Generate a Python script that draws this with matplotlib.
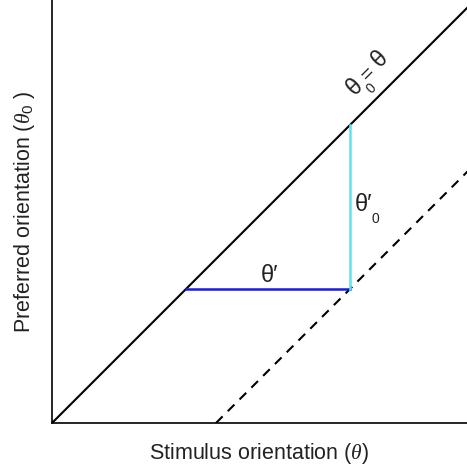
import matplotlib
matplotlib.use("Agg")
import matplotlib.pyplot as plt

plt.rcParams['font.family'] = ['Liberation Sans', 'DejaVu Sans']
plt.rcParams['mathtext.fontset'] = 'custom'
plt.rcParams['mathtext.rm'] = 'Liberation Sans'
plt.rcParams['mathtext.it'] = 'Liberation Serif:italic'

# data (arbitrary orientation units)
x_max = 415
y_max = 423
identity_x = [0, 430]
identity_y = [0, 430]
offset = 164
dashed_x = [offset, 430]
dashed_y = [0, 430 - offset]
theta_prime_x = [134, 298]
theta_prime_y = [134, 134]
theta0_prime_x = [298, 298]
theta0_prime_y = [134, 298]

TXT = '#222222'
fig = plt.figure(figsize=(4.67, 4.70), dpi=100)
ax = fig.add_axes([52/467, 47/470, 415/467, 423/470])
ax.plot(identity_x, identity_y, color='black', lw=1.5, solid_capstyle='butt')
ax.plot(dashed_x, dashed_y, color='black', lw=1.5, ls=(0, (4.5, 3.5)))
ax.plot(theta_prime_x, theta_prime_y, color='#1a1ae0', lw=1.8)
ax.plot(theta0_prime_x, theta0_prime_y, color='#5ee3ef', lw=1.8)
ax.set_xlim(0, x_max)
ax.set_ylim(0, y_max)
ax.set_xticks([])
ax.set_yticks([])
for s in ['top', 'right']:
    ax.spines[s].set_visible(False)
for s in ['left', 'bottom']:
    ax.spines[s].set_linewidth(1.2)

ax.set_xlabel(r'Stimulus orientation ($\theta$)', fontsize=15.5, color=TXT, labelpad=13)
ax.set_ylabel(r'Preferred orientation ($\theta_0$ )', fontsize=15.5, color=TXT, labelpad=11)

# theta'
ax.text(218, 147, "θ′", fontsize=17, ha='center', va='center', color=TXT)
# theta'_0
ax.text(311, 218, "θ′", fontsize=17, ha='center', va='center', color=TXT)
ax.text(323, 204, "0", fontsize=10, ha='center', va='center', color=TXT)
# theta_0 = theta (rotated)
ax.text(303, 336, "θ", fontsize=17, ha='center', va='center', rotation=45, color=TXT)
ax.text(319, 335, "0", fontsize=10, ha='center', va='center', rotation=45, color=TXT)
ax.text(316, 350, "=", fontsize=15, ha='center', va='center', rotation=45, color=TXT)
ax.text(328, 364, "θ", fontsize=17, ha='center', va='center', rotation=45, color=TXT)

fig.savefig("out.png", dpi=100)
